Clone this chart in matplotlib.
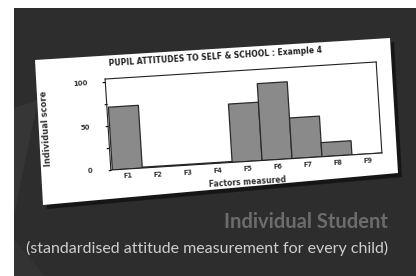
import math
import matplotlib
matplotlib.use("Agg")
import matplotlib.pyplot as plt
from matplotlib.patches import Polygon, Rectangle
from matplotlib.transforms import Affine2D
import mpl_toolkits.axisartist.floating_axes as floating_axes
from mpl_toolkits.axisartist.grid_finder import FixedLocator, DictFormatter

W, H = 416, 276

factors = ["F1", "F2", "F3", "F4", "F5", "F6", "F7", "F8", "F9"]
scores = [71, 1, 1, 1, 66, 87, 46, 16, 0]
y_ticks = [0, 25, 50, 75, 100]
y_tick_labels = {0: "0", 25: "", 50: "50", 75: "", 100: "100"}

title = "PUPIL ATTITUDES TO SELF & SCHOOL : Example 4"
x_label = "Factors measured"
y_label = "Individual score"
heading = "Individual Student"
subheading = "(standardised attitude measurement for every child)"

ANGLE = 3.6
X_MIN, X_MAX = 0.45, 9.5
Y_MIN, Y_MAX = 0, 103
FRAME_W, FRAME_H = 277, 93  # plot frame size in pixels


def px(x, y):
    # pixel position (y measured from top) -> figure fraction
    return (x / W, 1 - y / H)


fig = plt.figure(figsize=(W / 100, H / 100), dpi=100)
fig.patch.set_facecolor("white")

# dark panel and a faint lighter band
fig.add_artist(Rectangle(px(14, 276), 1, (H - 8) / H, transform=fig.transFigure,
                         facecolor="#2d2d2d", edgecolor="none", zorder=-5))
fig.add_artist(Polygon([px(14, 108), px(38, 100), px(14, 215)], closed=True,
                       transform=fig.transFigure, facecolor="#363636",
                       edgecolor="none", zorder=-4))
fig.add_artist(Polygon([px(14, 240), px(45, 276), px(14, 276)], closed=True,
                       transform=fig.transFigure, facecolor="#333333",
                       edgecolor="none", zorder=-4))

# the paper card with a shadow
card = [(35, 60), (390, 38), (398, 173), (43, 205)]
shadow = [(x + 4, y + 4) for x, y in card]
fig.add_artist(Polygon([px(*p) for p in shadow], closed=True, transform=fig.transFigure,
                       facecolor="#161616", edgecolor="none", zorder=-3))
fig.add_artist(Polygon([px(*p) for p in card], closed=True, transform=fig.transFigure,
                       facecolor="white", edgecolor="none", zorder=-2))

# rotated chart on the card
sx = FRAME_W / (X_MAX - X_MIN)
sy = FRAME_H / (Y_MAX - Y_MIN)
tr = Affine2D().scale(sx, sy).rotate_deg(ANGLE)

x_pos = list(range(1, len(factors) + 1))
grid_helper = floating_axes.GridHelperCurveLinear(
    tr, extremes=(X_MIN, X_MAX, Y_MIN, Y_MAX),
    grid_locator1=FixedLocator(x_pos),
    tick_formatter1=DictFormatter(dict(zip(x_pos, factors))),
    grid_locator2=FixedLocator(y_ticks),
    tick_formatter2=DictFormatter(y_tick_labels))

a = math.radians(ANGLE)
bw = FRAME_W * math.cos(a) + FRAME_H * math.sin(a)
bh = FRAME_W * math.sin(a) + FRAME_H * math.cos(a)
cx, cy = 243.5, 116
rect = [(cx - bw / 2) / W, (H - cy - bh / 2) / H, bw / W, bh / H]

ax = fig.add_axes(rect, axes_class=floating_axes.FloatingAxes, grid_helper=grid_helper)
ax.patch.set_facecolor("white")
ax.patch.zorder = 0.9

aux = ax.get_aux_axes(tr)
aux.patch = ax.patch
aux.bar(x_pos, scores, width=1.0, color="#8a8a8a", edgecolor="#2a2a2a", linewidth=0.9)

for side in ["top", "right", "bottom", "left"]:
    ax.axis[side].line.set_linewidth(0.8)
    ax.axis[side].line.set_color("#222222")

ax.axis["bottom"].major_ticks.set_ticksize(0)
ax.axis["bottom"].major_ticklabels.set_fontsize(4.8)
ax.axis["bottom"].major_ticklabels.set_fontweight("bold")
ax.axis["bottom"].major_ticklabels.set_color("#333333")
ax.axis["bottom"].major_ticklabels.set_pad(3)
ax.axis["bottom"].label.set_text(x_label)
ax.axis["bottom"].label.set_fontsize(5.5)
ax.axis["bottom"].label.set_fontweight("bold")
ax.axis["bottom"].label.set_color("#333333")
ax.axis["bottom"].label.set_pad(5)

ax.axis["left"].major_ticks.set_tick_out(True)
ax.axis["left"].major_ticks.set_ticksize(2)
ax.axis["left"].major_ticklabels.set_fontsize(5)
ax.axis["left"].major_ticklabels.set_fontweight("bold")
ax.axis["left"].major_ticklabels.set_color("#333333")
ax.axis["left"].major_ticklabels.set_pad(11)
ax.axis["left"].label.set_text(y_label)
ax.axis["left"].label.set_fontsize(6)
ax.axis["left"].label.set_fontweight("bold")
ax.axis["left"].label.set_color("#333333")
ax.axis["left"].label.set_pad(18)

ax.axis["top"].toggle(ticklabels=False, ticks=False)
ax.axis["right"].toggle(ticklabels=False, ticks=False)

fig.text(*px(215, 57), title, rotation=ANGLE, rotation_mode="anchor",
         ha="center", va="center", fontsize=5.5, fontweight="bold", color="#222222")

fig.text(*px(388, 222), heading, ha="right", va="center", fontsize=14.5,
         fontweight="bold", family="Lato", color="#6c6c6c")
fig.text(*px(388, 248), subheading, ha="right", va="center", fontsize=11.5,
         family="Lato", color="#cfcfcf")

fig.savefig("out.png", dpi=100, facecolor=fig.get_facecolor())
